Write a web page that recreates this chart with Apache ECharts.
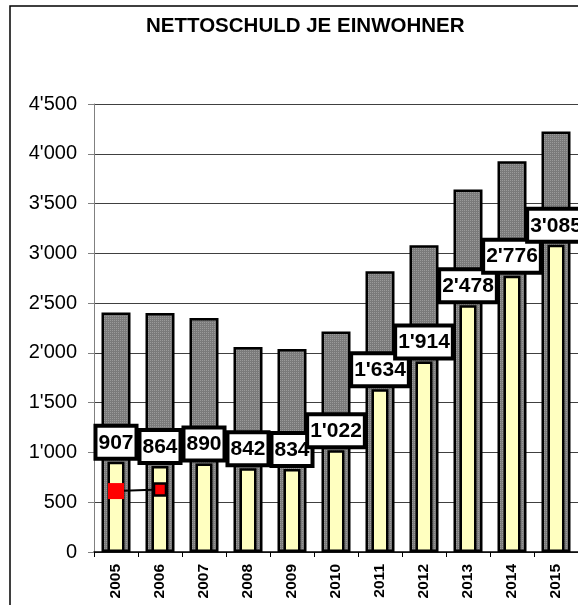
<!DOCTYPE html>
<html>
<head>
<meta charset="utf-8">
<script src="https://cdn.jsdelivr.net/npm/echarts@6/dist/echarts.min.js"></script>
<style>
html,body{margin:0;padding:0;background:#fff;}
#chart{width:578px;height:605px;}
</style>
</head>
<body>
<div id="chart"></div>
<script>
const categories = ['2005','2006','2007','2008','2009','2010','2011','2012','2013','2014','2015'];
const grossValues = [2405, 2400, 2350, 2060, 2040, 2215, 2820, 3080, 3640, 3925, 4225];
const netDebtPerCapita = [907, 864, 890, 842, 834, 1022, 1634, 1914, 2478, 2776, 3085];
const redLineValues = [612, 627, null, null, null, null, null, null, null, null, null];
const titleText = 'NETTOSCHULD JE EINWOHNER';

function fmt(v) {
  return String(Math.round(v)).replace(/\B(?=(\d{3})+(?!\d))/g, "'");
}

// dotted gray texture
const pat = document.createElement('canvas');
pat.width = 2; pat.height = 2;
const pc = pat.getContext('2d');
pc.fillStyle = '#7a7a7a'; pc.fillRect(0, 0, 2, 2);
pc.fillStyle = '#9a9a9a'; pc.fillRect(0, 0, 1, 1);

const font = 'Arial, "Liberation Sans", sans-serif';

const redData = redLineValues.map(function (v, i) {
  if (v == null) return null;
  if (i === 0) return { value: v, symbolSize: 16, itemStyle: { color: '#ff0000', borderWidth: 0 } };
  return { value: v, symbolSize: 12, itemStyle: { color: '#ff0000', borderColor: '#000', borderWidth: 2.5 } };
});

const chart = echarts.init(document.getElementById('chart'), null, { renderer: 'canvas' });
chart.setOption({
  animation: false,
  backgroundColor: '#fff',
  title: {
    text: titleText,
    left: 146,
    top: 16,
    padding: 0,
    textStyle: { fontFamily: font, fontSize: 20.5, fontWeight: 'bold', color: '#000' }
  },
  graphic: [{
    type: 'rect',
    z: -10,
    shape: { x: 10, y: 6, width: 700, height: 700 },
    style: { fill: 'none', stroke: '#000', lineWidth: 1.5 }
  }],
  grid: { left: 94, top: 104, width: 488, height: 448, containLabel: false },
  xAxis: [{
    type: 'category',
    data: categories,
    position: 'bottom',
    axisLine: { show: true, lineStyle: { color: '#000', width: 1.5 } },
    axisTick: { show: true, length: 5, lineStyle: { color: '#000', width: 1 } },
    axisLabel: {
      rotate: 90, margin: 12, interval: 0,
      fontFamily: font, fontSize: 15.5, fontWeight: 'bold', color: '#000'
    },
    splitLine: { show: false }
  }, {
    type: 'category',
    data: categories,
    position: 'bottom',
    show: false
  }],
  yAxis: {
    type: 'value',
    min: 0, max: 4500, interval: 500,
    axisLine: { show: true, lineStyle: { color: '#808080', width: 1 } },
    axisTick: { show: true, length: 6, lineStyle: { color: '#808080', width: 1 } },
    axisLabel: {
      margin: 17, fontFamily: font, fontSize: 20, color: '#000',
      formatter: function (v) { return fmt(v); }
    },
    splitLine: { show: true, lineStyle: { color: '#404040', width: 1 } }
  },
  series: [{
    type: 'bar',
    name: 'gross',
    xAxisIndex: 0,
    data: grossValues,
    barWidth: 29,
    itemStyle: { color: { image: pat, repeat: 'repeat' }, borderColor: '#000', borderWidth: 2.5 },
    z: 2
  }, {
    type: 'bar',
    name: 'net',
    xAxisIndex: 1,
    data: netDebtPerCapita,
    barWidth: 17,
    itemStyle: { color: '#ffffc0', borderColor: '#000', borderWidth: 2.5 },
    label: {
      show: true,
      position: 'top',
      distance: 5,
      formatter: function (p) { return fmt(p.value); },
      fontFamily: font, fontSize: 21, fontWeight: 'bold', color: '#000',
      lineHeight: 24,
      backgroundColor: '#fff',
      borderColor: '#000', borderWidth: 4,
      padding: [3, 1, 2, 1]
    },
    z: 3
  }, {
    type: 'line',
    name: 'red',
    xAxisIndex: 0,
    data: redData,
    symbol: 'rect',
    showSymbol: true,
    lineStyle: { color: '#000', width: 2 },
    itemStyle: { color: '#ff0000' },
    z: 4
  }]
});
</script>
</body>
</html>
